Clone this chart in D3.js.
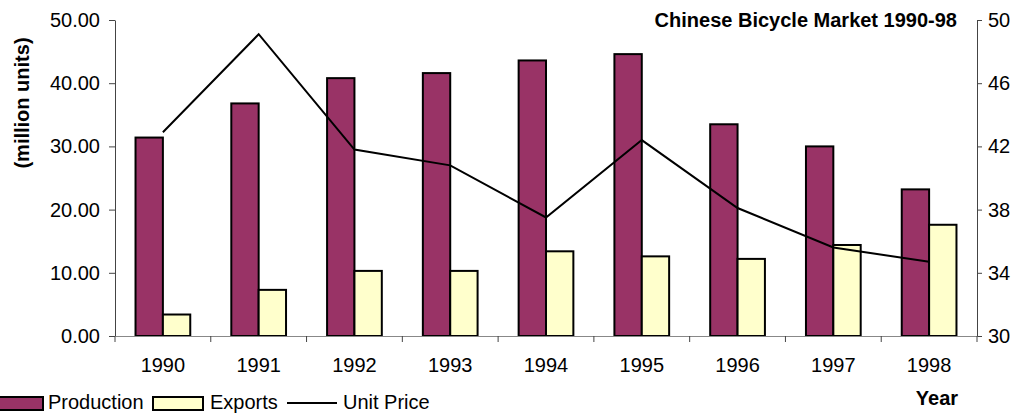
<!DOCTYPE html>
<html>
<head>
<meta charset="utf-8">
<script src="https://cdn.jsdelivr.net/npm/d3@7"></script>
<style>
  html, body { margin: 0; padding: 0; background: #fff; }
  svg { display: block; font-family: "Liberation Sans", Arial, sans-serif; }
</style>
</head>
<body>
<svg id="chart" width="1016" height="414"></svg>
<script>
// Chinese bicycle market, 1990-98
const years = ["1990", "1991", "1992", "1993", "1994", "1995", "1996", "1997", "1998"];
const production = [31.4, 36.8, 40.8, 41.6, 43.6, 44.6, 33.5, 30.0, 23.2];   // million units
const exports = [3.4, 7.3, 10.3, 10.3, 13.4, 12.6, 12.2, 14.4, 17.6];        // million units
const unitPrice = [42.9, 49.1, 41.8, 40.8, 37.5, 42.4, 38.1, 35.6, 34.7];    // right axis
const leftTicks = [0, 10, 20, 30, 40, 50];
const rightTicks = [30, 34, 38, 42, 46, 50];
const seriesNames = ["Production", "Exports"];
const seriesColors = { Production: "#993366", Exports: "#FFFFCC" };

const svg = d3.select("#chart");
const plot = { left: 115, right: 977, top: 20, bottom: 336 };
const fs = 20;

const x = d3.scaleBand().domain(years).range([plot.left, plot.right]).padding(0);
const bw = x.bandwidth();
// gap width 150%: each band holds two bars plus 1.5 bar widths of space
const barW = bw / 3.5;
const xs = d3.scaleBand().domain(seriesNames).range([barW * 0.75, barW * 2.75]).padding(0);

const yL = d3.scaleLinear().domain([0, 50]).range([plot.bottom, plot.top]);
const yR = d3.scaleLinear().domain([30, 50]).range([plot.bottom, plot.top]);

// bars
const rows = years.map((yr, i) => ({ yr, Production: production[i], Exports: exports[i] }));
const groups = svg.append("g").selectAll("g").data(rows).join("g")
  .attr("transform", d => `translate(${x(d.yr)},0)`);
groups.selectAll("rect")
  .data(d => seriesNames.map(k => ({ k, v: d[k] })))
  .join("rect")
  .attr("x", d => xs(d.k))
  .attr("width", xs.bandwidth())
  .attr("y", d => yL(d.v))
  .attr("height", d => yL(0) - yL(d.v))
  .attr("fill", d => seriesColors[d.k])
  .attr("stroke", "#000")
  .attr("stroke-width", 2);

// unit price line
const line = d3.line()
  .x((d, i) => x(years[i]) + bw / 2)
  .y(d => yR(d));
svg.append("path")
  .datum(unitPrice)
  .attr("d", line)
  .attr("fill", "none")
  .attr("stroke", "#000")
  .attr("stroke-width", 2);

// left axis
const gL = svg.append("g").attr("transform", `translate(${plot.left},0)`)
  .call(d3.axisLeft(yL).tickValues(leftTicks).tickFormat(d3.format(".2f")).tickSize(6).tickSizeOuter(0).tickPadding(9));
// right axis
const gR = svg.append("g").attr("transform", `translate(${plot.right},0)`)
  .call(d3.axisRight(yR).tickValues(rightTicks).tickFormat(d3.format("d")).tickSize(5).tickSizeOuter(0).tickPadding(6));
// category axis line
const gX = svg.append("g").attr("transform", `translate(0,${plot.bottom})`)
  .call(d3.axisBottom(x).tickSize(0).tickSizeOuter(0).tickFormat(""));

// category labels
svg.append("g").selectAll("text")
  .data(years)
  .join("text")
  .attr("x", d => x(d) + bw / 2)
  .attr("y", plot.bottom + 36)
  .attr("text-anchor", "middle")
  .attr("font-size", fs)
  .text(d => d);

// category separators
svg.append("g").selectAll("line")
  .data(years.concat(["end"]))
  .join("line")
  .attr("x1", (d, i) => i < years.length ? x(d) : plot.right)
  .attr("x2", (d, i) => i < years.length ? x(d) : plot.right)
  .attr("y1", plot.bottom)
  .attr("y2", plot.bottom + 6)
  .attr("stroke", "#444")
  .attr("stroke-width", 1);

[gL, gR].forEach(g => {
  g.selectAll("text").attr("font-size", fs).attr("fill", "#000").attr("font-family", "Liberation Sans, Arial, sans-serif");
  g.selectAll("path.domain, line").attr("stroke", "#444");
});
gX.select("path.domain").attr("stroke", "#888");

// titles
svg.append("text")
  .attr("x", 957).attr("y", 27)
  .attr("text-anchor", "end")
  .attr("font-size", fs).attr("font-weight", "bold")
  .text("Chinese Bicycle Market 1990-98");

svg.append("text")
  .attr("transform", "translate(29,103) rotate(-90)")
  .attr("text-anchor", "middle")
  .attr("font-size", fs).attr("font-weight", "bold")
  .text("(million units)");

svg.append("text")
  .attr("x", 937).attr("y", 405)
  .attr("text-anchor", "middle")
  .attr("font-size", fs).attr("font-weight", "bold")
  .text("Year");

// legend
const legend = svg.append("g");
const legendItems = [
  { name: "Production", type: "rect", x: -7, tx: 48 },
  { name: "Exports", type: "rect", x: 153, tx: 210 },
  { name: "Unit Price", type: "line", x: 287, tx: 343 }
];
legendItems.forEach(it => {
  if (it.type === "rect") {
    legend.append("rect")
      .attr("x", it.x).attr("y", 397).attr("width", 50).attr("height", 13)
      .attr("fill", seriesColors[it.name]).attr("stroke", "#000").attr("stroke-width", 2);
  } else {
    legend.append("line")
      .attr("x1", it.x).attr("x2", it.x + 50).attr("y1", 403).attr("y2", 403)
      .attr("stroke", "#000").attr("stroke-width", 2);
  }
  legend.append("text")
    .attr("x", it.tx).attr("y", 409)
    .attr("font-size", fs)
    .text(it.name);
});
</script>
</body>
</html>
